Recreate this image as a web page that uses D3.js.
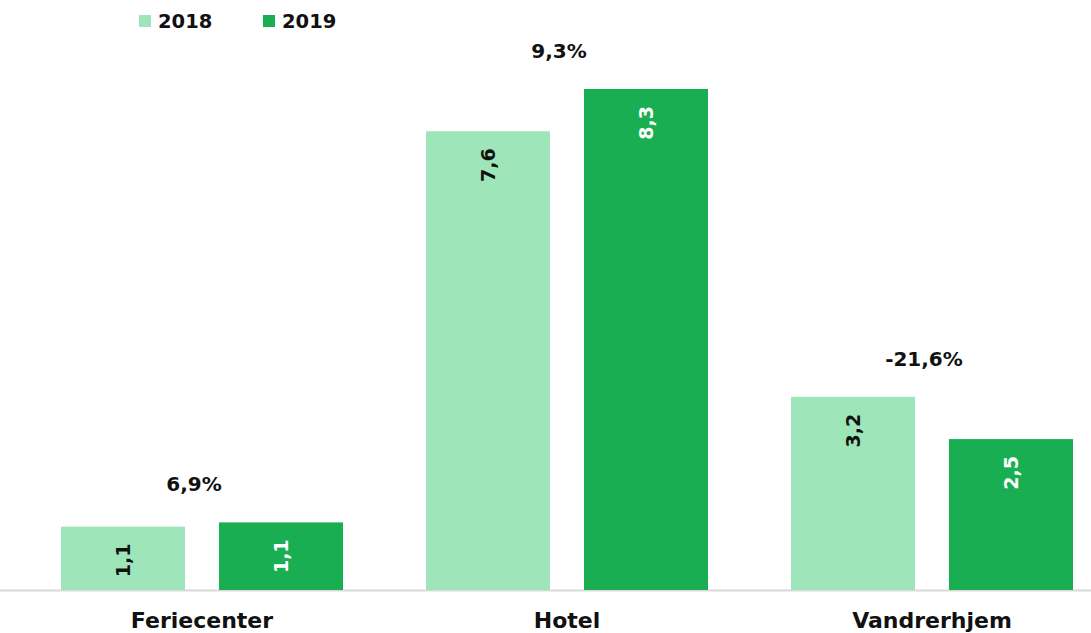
<!DOCTYPE html>
<html>
<head>
<meta charset="utf-8">
<script src="https://cdn.jsdelivr.net/npm/d3@7"></script>
<style>
  html, body { margin: 0; padding: 0; background: #fff; }
  svg { display: block; font-family: "DejaVu Sans", "Open Sans", sans-serif; }
</style>
</head>
<body>
<svg id="chart" width="1091" height="633"></svg>
<script>
const categories = ["Feriecenter", "Hotel", "Vandrerhjem"];
const seriesNames = ["2018", "2019"];
const values2018 = [1.05, 7.6, 3.2];
const values2019 = [1.12, 8.3, 2.5];
const valueLabels2018 = ["1,1", "7,6", "3,2"];
const valueLabels2019 = ["1,1", "8,3", "2,5"];
const growthLabels = ["6,9%", "9,3%", "-21,6%"];
const colors = ["#9ee6b9", "#1aae52"];

const W = 1091, H = 633;
const baseY = 590;
const svg = d3.select("#chart");

const x0 = d3.scaleBand().domain(categories).range([19.5, 1114.5])
  .paddingInner(0.2274).paddingOuter(0.1137);
const x1 = d3.scaleBand().domain(seriesNames).range([0, x0.bandwidth()])
  .paddingInner(0.215).paddingOuter(0);
const y = d3.scaleLinear().domain([0, 8.3]).range([baseY, 89]);
const color = d3.scaleOrdinal().domain(seriesNames).range(colors);

const data = categories.map((c, i) => ({
  cat: c,
  growth: growthLabels[i],
  bars: [
    { s: "2018", v: values2018[i], label: valueLabels2018[i] },
    { s: "2019", v: values2019[i], label: valueLabels2019[i] }
  ]
}));

// axis line
svg.append("line").attr("x1", 0).attr("x2", W).attr("y1", baseY + 0.5).attr("y2", baseY + 0.5)
  .attr("stroke", "#d9d9d9").attr("stroke-width", 2);

const g = svg.selectAll("g.grp").data(data).enter().append("g")
  .attr("class", "grp").attr("transform", d => `translate(${x0(d.cat)},0)`);

g.selectAll("rect").data(d => d.bars).enter().append("rect")
  .attr("x", d => x1(d.s)).attr("y", d => y(d.v))
  .attr("width", x1.bandwidth()).attr("height", d => baseY - y(d.v))
  .attr("fill", d => color(d.s));

g.selectAll("text.val").data(d => d.bars).enter().append("text")
  .attr("class", "val")
  .attr("transform", d => `translate(${x1(d.s) + x1.bandwidth() / 2},${y(d.v) + 17}) rotate(-90)`)
  .attr("text-anchor", "end").attr("dominant-baseline", "central")
  .attr("font-size", 19).attr("font-weight", 700)
  .attr("fill", d => d.s === "2019" ? "#ffffff" : "#111111")
  .text(d => d.label);

g.append("text")
  .attr("x", x0.bandwidth() / 2 - 8)
  .attr("y", d => y(d3.max(d.bars, b => b.v)) - 38)
  .attr("text-anchor", "middle").attr("dominant-baseline", "central")
  .attr("font-size", 20).attr("font-weight", 700).attr("fill", "#111")
  .text(d => d.growth);

// category labels
svg.selectAll("text.cat").data(categories).enter().append("text")
  .attr("class", "cat")
  .attr("x", d => x0(d) + x0.bandwidth() / 2)
  .attr("y", 628)
  .attr("text-anchor", "middle")
  .attr("font-size", 22).attr("font-weight", 700).attr("fill", "#111")
  .text(d => d);

// legend
const legendX = [139, 263];
const lg = svg.selectAll("g.leg").data(seriesNames).enter().append("g")
  .attr("class", "leg").attr("transform", (d, i) => `translate(${legendX[i]},15)`);
lg.append("rect").attr("width", 12).attr("height", 12).attr("fill", d => color(d));
lg.append("text").attr("x", 19).attr("y", 6).attr("dominant-baseline", "central")
  .attr("font-size", 19.5).attr("font-weight", 700).attr("fill", "#111").text(d => d);
</script>
</body>
</html>
